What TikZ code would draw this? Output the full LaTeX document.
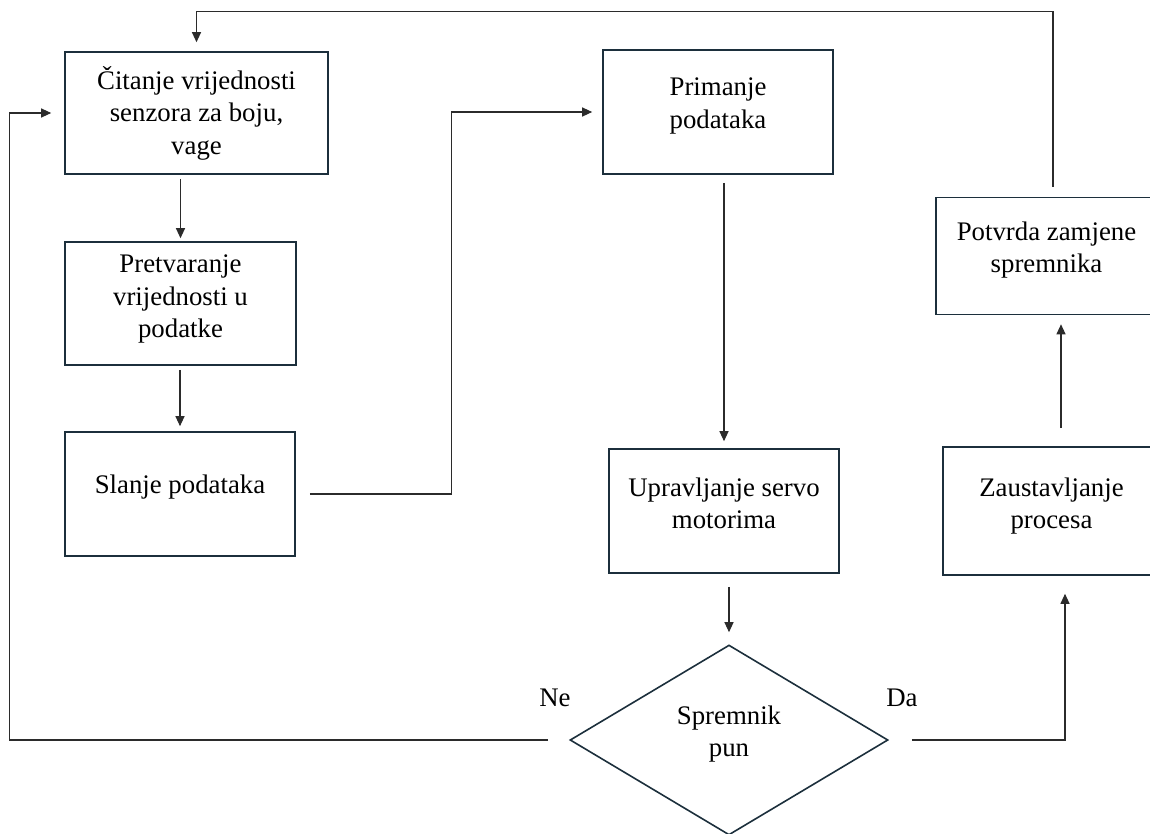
\documentclass[tikz,border=0pt]{standalone}
\usepackage{fontspec}
\setmainfont{Liberation Serif}
\usetikzlibrary{arrows.meta,shapes.geometric}
\definecolor{boxline}{HTML}{1C2F3C}
\definecolor{arrline}{HTML}{2B2B2B}
\tikzset{
  txt/.style={align=center, font=\fontsize{26.8}{32.5}\selectfont, text=black},
  box/.style={draw=boxline, line width=1.6pt, inner sep=0pt},
  arr/.style={draw=arrline, line width=1.1pt, -{Triangle[length=10pt,width=9pt]}}
}
\begin{document}
\begin{tikzpicture}[x=1pt, y=-1pt]
  \useasboundingbox (0,0) rectangle (1150,833);

  % boxes
  \node[box, minimum width=263pt, minimum height=122pt,
    label={[txt]center:{Čitanje vrijednosti\\senzora za boju,\\vage}}] (citanje) at (196.5,113) {};
  \node[box, minimum width=231pt, minimum height=123pt,
    label={[txt, yshift=4.5pt]center:{Pretvaranje\\vrijednosti u\\podatke}}] (pretvaranje) at (180.5,303.5) {};
  \node[box, minimum width=230pt, minimum height=124pt,
    label={[txt, yshift=7pt]center:{Slanje podataka}}] (slanje) at (180,494) {};
  \node[box, minimum width=230pt, minimum height=124pt,
    label={[txt, yshift=6pt]center:{Primanje\\podataka}}] (primanje) at (718,112) {};
  \node[box, minimum width=230pt, minimum height=124pt,
    label={[txt, yshift=7.5pt]center:{Upravljanje servo\\motorima}}] (uprav) at (724,511) {};
  \node[box, minimum width=224pt, minimum height=117pt,
    label={[txt, yshift=6pt, xshift=-1.5pt]center:{Potvrda zamjene\\spremnika}}] (potvrda) at (1048,256) {};
  \node[box, minimum width=217pt, minimum height=128pt,
    label={[txt, yshift=5pt]center:{Zaustavljanje\\procesa}}] (stop) at (1051.5,511) {};

  % decision
  \node[box, diamond, minimum width=318pt, minimum height=190pt,
    label={[txt, yshift=6pt]center:{Spremnik\\pun}}] (spremnik) at (729,740) {};
  \node[txt] (ne) at (555,698) {Ne};
  \node[txt] (da) at (902,698) {Da};

  % connectors
  \draw[arr, shorten <=4pt, shorten >=3pt] (pretvaranje.north |- citanje.south) -- (pretvaranje.north);
  \draw[arr, shorten <=4pt, shorten >=5pt] (slanje.north |- pretvaranje.south) -- (slanje.north);
  \draw[arr, shorten <=14pt, shorten >=10pt] (slanje.east) -| ([xshift=-151pt]primanje.west) -- (primanje.west);
  \draw[arr, shorten <=8pt, shorten >=7pt] (uprav.north |- primanje.south) -- (uprav.north);
  \draw[arr, shorten <=13pt, shorten >=12pt] (spremnik.north |- uprav.south) -- (spremnik.north);
  \draw[arr, shorten <=21pt, shorten >=13pt] (spremnik.west) -| ([xshift=-55pt]citanje.west) -- (citanje.west);
  \draw[arr, shorten <=23pt, shorten >=18pt] (spremnik.east) -| ([xshift=13.5pt]stop.south);
  \draw[arr, shorten <=18pt, shorten >=9pt] ([xshift=9.5pt]stop.north) -- ([xshift=9.5pt]stop.north |- potvrda.south);
  \draw[arr, shorten <=10pt, shorten >=9pt] ([xshift=5pt]potvrda.north) |- ([yshift=40pt]citanje.north) -- (citanje.north);
\end{tikzpicture}
\end{document}
